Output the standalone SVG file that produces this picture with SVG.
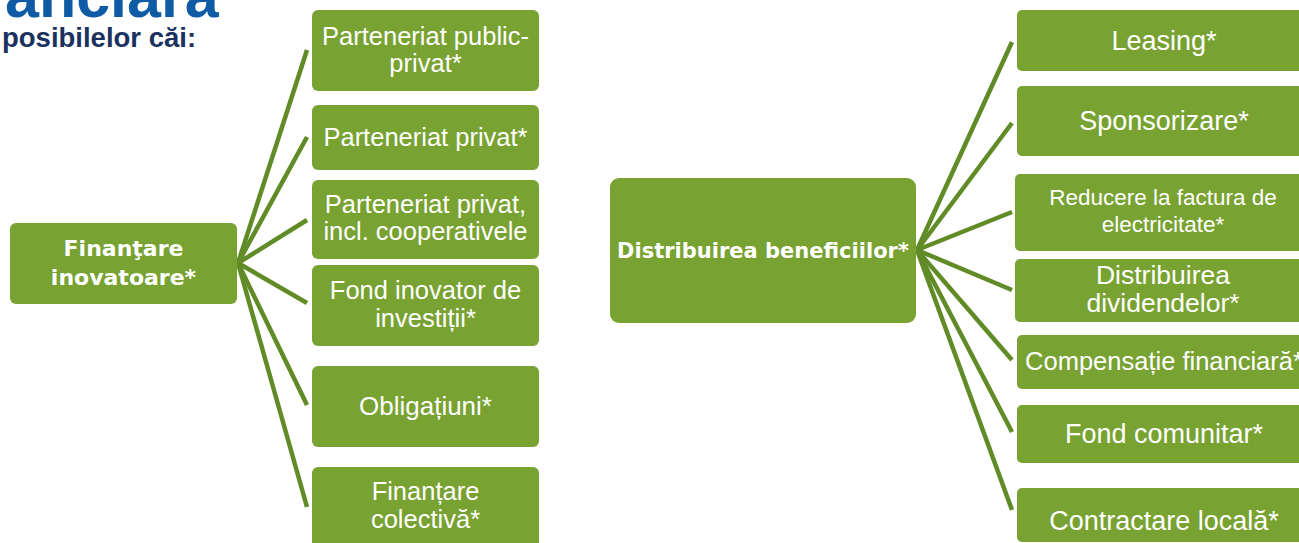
<svg xmlns="http://www.w3.org/2000/svg" width="1299" height="543" viewBox="0 0 1299 543">
<style>
.box{fill:#78A232}
.t{font-family:"Liberation Sans",Arial,sans-serif;fill:#ffffff;text-anchor:middle}
.b{font-family:"DejaVu Sans",Verdana,sans-serif;font-weight:bold}
.c line{stroke:#618B27;stroke-width:4.5;stroke-linecap:butt}
</style>
<rect width="1299" height="543" fill="#ffffff"/>
<text x="5" y="17" font-family="'Liberation Sans',Arial,sans-serif" font-weight="bold" font-size="61" fill="#0F5BA5">anciară</text>
<text x="2" y="47" font-family="'Liberation Sans',Arial,sans-serif" font-weight="bold" font-size="27.5" fill="#1B3160">posibilelor căi:</text>
<g class="c" id="connectors">
<line x1="238" y1="263" x2="307" y2="50"/>
<line x1="238" y1="263" x2="307" y2="137"/>
<line x1="238" y1="263" x2="307" y2="220"/>
<line x1="238" y1="263" x2="307" y2="303"/>
<line x1="238" y1="263" x2="307" y2="405"/>
<line x1="238" y1="263" x2="307" y2="507"/>
<line x1="917" y1="250" x2="1012" y2="42"/>
<line x1="917" y1="250" x2="1012" y2="123"/>
<line x1="917" y1="250" x2="1012" y2="212"/>
<line x1="917" y1="250" x2="1012" y2="290"/>
<line x1="917" y1="250" x2="1012" y2="360"/>
<line x1="917" y1="250" x2="1012" y2="432"/>
<line x1="917" y1="250" x2="1012" y2="510"/>
</g>
<g id="n-finantare">
<rect class="box" x="10" y="223" width="227" height="81" rx="6"/>
<text class="t b" font-size="22"><tspan x="123.5" y="256">Finanţare</tspan><tspan x="123.5" y="285">inovatoare*</tspan></text>
</g>
<g id="n-ppp">
<rect class="box" x="312" y="10" width="227" height="81" rx="6"/>
<text class="t" font-size="25.5"><tspan x="425.5" y="45">Parteneriat public-</tspan><tspan x="425.5" y="72">privat*</tspan></text>
</g>
<g id="n-pp">
<rect class="box" x="312" y="105" width="227" height="65" rx="6"/>
<text class="t" font-size="25.5" x="425.5" y="146">Parteneriat privat*</text>
</g>
<g id="n-ppc">
<rect class="box" x="312" y="180" width="227" height="79" rx="6"/>
<text class="t" font-size="25.5"><tspan x="425.5" y="213">Parteneriat privat,</tspan><tspan x="425.5" y="240">incl. cooperativele</tspan></text>
</g>
<g id="n-fond">
<rect class="box" x="312" y="265" width="227" height="81" rx="6"/>
<text class="t" font-size="25.5"><tspan x="425.5" y="299">Fond inovator de</tspan><tspan x="425.5" y="327">investiții*</tspan></text>
</g>
<g id="n-oblig">
<rect class="box" x="312" y="366" width="227" height="81" rx="6"/>
<text class="t" font-size="26" x="425.5" y="415">Obligațiuni*</text>
</g>
<g id="n-colectiva">
<rect class="box" x="312" y="467" width="227" height="82" rx="6"/>
<text class="t" font-size="25.5"><tspan x="425.5" y="500">Finanțare</tspan><tspan x="425.5" y="528">colectivă*</tspan></text>
</g>
<g id="n-distrib">
<rect class="box" x="610" y="178" width="306" height="145" rx="9"/>
<text class="t b" font-size="21" x="763" y="258">Distribuirea beneficiilor*</text>
</g>
<g id="n-leasing">
<rect class="box" x="1017" y="10" width="294" height="61" rx="5"/>
<text class="t" font-size="27" x="1164" y="50">Leasing*</text>
</g>
<g id="n-sponsor">
<rect class="box" x="1017" y="86" width="294" height="70" rx="5"/>
<text class="t" font-size="27" x="1164" y="130">Sponsorizare*</text>
</g>
<g id="n-reducere">
<rect class="box" x="1015" y="174" width="296" height="77" rx="5"/>
<text class="t" font-size="22.5"><tspan x="1163" y="205">Reducere la factura de</tspan><tspan x="1163" y="232">electricitate*</tspan></text>
</g>
<g id="n-dividende">
<rect class="box" x="1015" y="259" width="296" height="63" rx="5"/>
<text class="t" font-size="26.5"><tspan x="1163" y="284">Distribuirea</tspan><tspan x="1163" y="312">dividendelor*</tspan></text>
</g>
<g id="n-compensatie">
<rect class="box" x="1017" y="335" width="294" height="54" rx="5"/>
<text class="t" font-size="25.5" x="1164" y="370">Compensație financiară*</text>
</g>
<g id="n-fondcom">
<rect class="box" x="1017" y="405" width="294" height="58" rx="5"/>
<text class="t" font-size="27" x="1164" y="443">Fond comunitar*</text>
</g>
<g id="n-contractare">
<rect class="box" x="1017" y="488" width="294" height="54" rx="5"/>
<text class="t" font-size="27" x="1164" y="530">Contractare locală*</text>
</g>
</svg>
